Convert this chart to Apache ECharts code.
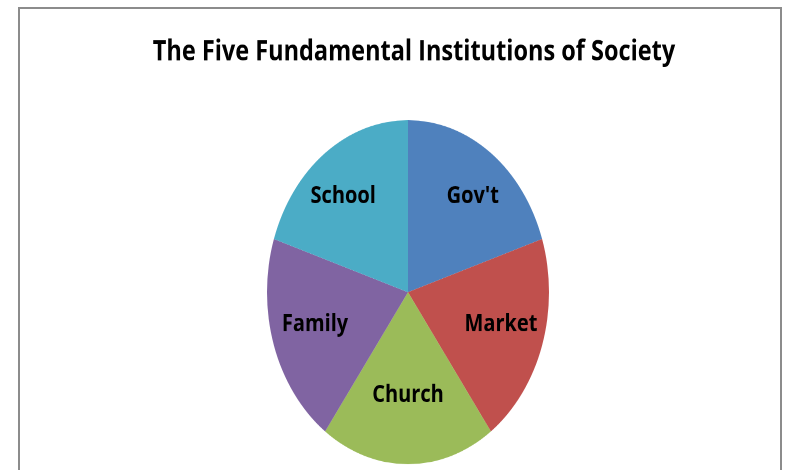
<!DOCTYPE html>
<html>
<head>
<meta charset="utf-8">
<script src="https://cdn.jsdelivr.net/npm/echarts@6/dist/echarts.min.js"></script>
<style>
  html, body { margin: 0; padding: 0; background: #fff; overflow: hidden; }
  #wrap { position: relative; width: 785px; height: 470px; overflow: hidden; }
  #frame { position: absolute; left: 18px; top: 7px; width: 764px; height: 500px;
           border: 2px solid #8c8c8c; box-sizing: border-box; }
  /* the reference picture is stretched vertically; reproduce that stretch */
  #main { position: absolute; left: 0; top: 0; width: 785px; height: 386px;
          transform-origin: 0 0; transform: scaleY(1.22); }
</style>
</head>
<body>
<div id="wrap">
  <div id="frame"></div>
  <div id="main"></div>
</div>
<script>
const titleText = 'The Five Fundamental Institutions of Society';
const categories = ["Gov't", 'Market', 'Church', 'Family', 'School'];
const values = [20, 20, 20, 20, 20];
const colors = ['#4F81BD', '#C0504D', '#9BBB59', '#8064A2', '#4BACC6'];

const CX = 408, CY = 239.5, R = 141;
const data = categories.map((c, i) => ({ name: c, value: values[i] }));

const chart = echarts.init(document.getElementById('main'), null, { renderer: 'canvas', devicePixelRatio: 2 });
chart.setOption({
  animation: false,
  color: colors,
  title: {
    text: titleText,
    left: 409, top: 26, textAlign: 'center',
    textStyle: { fontFamily: 'Open Sans', fontWeight: 'bold', fontSize: 23.5, color: '#000' }
  },
  series: [{
    type: 'pie',
    center: [CX, CY],
    radius: [0, R],
    startAngle: 90,
    clockwise: true,
    silent: true,
    itemStyle: { borderWidth: 0 },
    label: {
      show: true, position: 'inside',
      fontFamily: 'Open Sans', fontWeight: 'bold', fontSize: 20, color: '#000'
    },
    labelLine: { show: false },
    labelLayout: function (p) {
      const r = p.labelRect;
      const lx = r.x + r.width / 2 - CX;
      const ly = r.y + r.height / 2 - CY;
      const up = ly < 0;
      const fx = up ? 1.5 : 1.33;
      const fy = up ? 1.32 : 1.15;
      return { dx: lx * (fx - 1), dy: ly * (fy - 1) };
    },
    data: data
  }]
});
</script>
</body>
</html>
